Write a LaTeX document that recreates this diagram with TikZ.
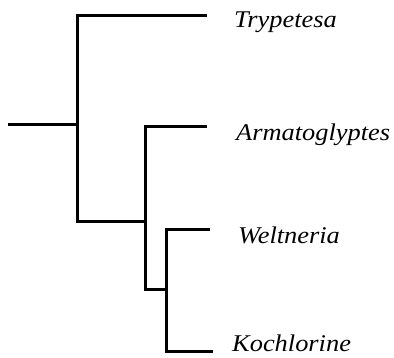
\documentclass[tikz,border=0pt]{standalone}
\usepackage{fontspec}
\setmainfont{Liberation Serif}
\newcommand{\taxname}[1]{\scalebox{1.1}[1]{#1}}
\begin{document}
\begin{tikzpicture}[x=1pt,y=-1pt,
  branch/.style={line width=3pt,line join=miter},
  taxon/.style={anchor=base west,inner sep=0pt,font=\fontsize{24}{28}\selectfont\itshape}]
\useasboundingbox (0,0) rectangle (394,358);
% labels
\node[taxon] (Tr) at (234,28) {\taxname{Trypetesa}};
\node[taxon] (Ar) at (236,141) {\taxname{Armatoglyptes}};
\node[taxon] (We) at (238,244) {\taxname{Weltneria}};
\node[taxon] (Ko) at (232,352) {\taxname{Kochlorine}};
% branch tips
\coordinate (tT) at (207,16);
\coordinate (tA) at (207,127);
\coordinate (tW) at (210,230);
\coordinate (tK) at (213,352);
% internal nodes
\coordinate (root) at (8,124.5);
\coordinate (n1) at (77.5,124.5);
\coordinate (n2) at (145,222);
\coordinate (n3) at (166,290);
% tree
\draw[branch] (root) -- (n1);
\draw[branch] (tT) -| (n1 |- tT) -- (n1 |- n2) -- (n2);
\draw[branch] (tA) -| (n2 |- tA) -- (n2 |- n3) -- (n3);
\draw[branch] (tW) -| (n3 |- tW) -- (n3 |- tK) -- (tK);
\end{tikzpicture}
\end{document}
